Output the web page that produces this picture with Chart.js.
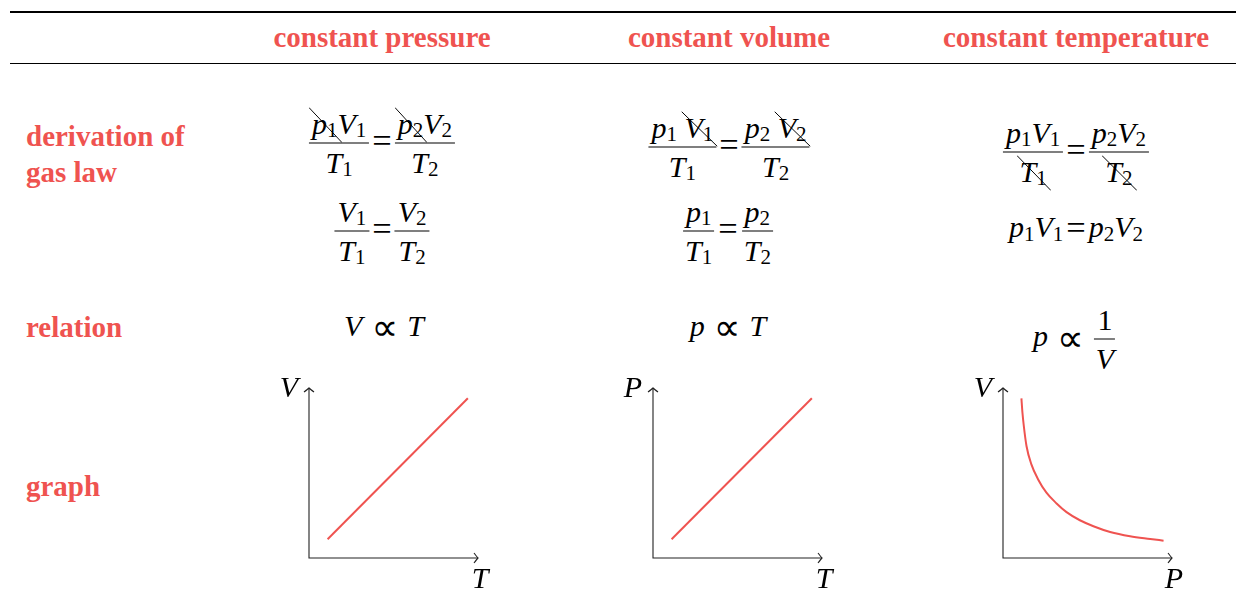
<!DOCTYPE html>
<html>
<head>
<meta charset="utf-8">
<script src="https://cdn.jsdelivr.net/npm/chart.js@4.4.0/dist/chart.umd.min.js"></script>
<style>
  body { margin: 0; background: #fff; }
  #page { position: relative; width: 1236px; height: 609px; overflow: hidden; }
  .rule { position: absolute; left: 10px; right: 0; background: #000; }
  .lbl { position: absolute; font-family: "Liberation Serif", serif; font-weight: bold; font-size: 29px;
         color: #ef5350; line-height: 1; white-space: nowrap; }
  .m { position: absolute; font-family: "Liberation Serif", serif; font-style: italic; font-size: 30px;
       color: #000; line-height: 1; white-space: nowrap; transform: translate(-50%, -50%); }
  .frac { display: inline-flex; flex-direction: column; align-items: center; vertical-align: middle; }
  .frac .num { padding: 0 3px 4px; border-bottom: 1.3px solid #000; }
  .frac .den { padding: 4px 3px 0; }
  sub { font-style: normal; font-size: 0.7em; vertical-align: -0.18em; line-height: 0; }
  .eq { font-style: normal; font-size: 1.15em; margin: 0 3px; vertical-align: -0.05em; }
  .prop { font-style: normal; font-family: "DejaVu Sans", sans-serif; margin: 0 9px; font-size: 1.25em; vertical-align: -0.12em; }
  .x { position: relative; }
  .x::after { content: ""; position: absolute; left: -3px; right: -4px; top: 1px; bottom: -3px;
              background: linear-gradient(to top right, transparent calc(50% - 0.7px), #000 50%, transparent calc(50% + 0.7px)); }
  canvas { position: absolute; }
</style>
</head>
<body>
<div id="page"></div>
<script>
// table text
const columns = ["constant pressure", "constant volume", "constant temperature"];
const rowLabels = [["derivation of", "gas law"], ["relation"], ["graph"]];

// graph data (axes run 0..10)
const xAxisLabels = ["T", "T", "P"];
const yAxisLabels = ["V", "P", "V"];
const pressureX = [1.1, 9.4];
const pressureY = [1.1, 9.4];
const volumeX = [1.1, 9.4];
const volumeY = [1.1, 9.4];
const tempX = [1.09, 1.15, 1.23, 1.39, 1.68, 2.08, 2.57, 3.17, 3.76, 4.55, 5.35, 6.34, 7.52, 8.71, 9.5];
const tempY = [9.39, 8.56, 7.78, 6.59, 5.51, 4.62, 3.84, 3.21, 2.7, 2.22, 1.87, 1.53, 1.28, 1.12, 1.02];

const red = "#ef5350";
const page = document.getElementById("page");

function add(html) {
  page.insertAdjacentHTML("beforeend", html);
}

// rules
add('<div class="rule" style="top:11px;height:2px"></div>');
add('<div class="rule" style="top:62.5px;height:1.3px"></div>');

// labels placed by baseline
function label(text, x, baseline, center) {
  const top = baseline - 29 * 0.8375;
  const tr = center ? "transform:translateX(-50%);" : "";
  add('<div class="lbl" style="left:' + x + 'px;top:' + top + 'px;' + tr + '">' + text + '</div>');
}
const colCenters = [382, 729, 1076];
columns.forEach((c, i) => label(c, colCenters[i], 47, true));
label(rowLabels[0][0], 26, 146, false);
label(rowLabels[0][1], 26, 182, false);
label(rowLabels[1][0], 26, 337, false);
label(rowLabels[2][0], 26, 496, false);

// math pieces
const s = n => "<sub>" + n + "</sub>";
const x = t => '<span class="x">' + t + "</span>";
const frac = (a, b) => '<span class="frac"><span class="num">' + a + '</span><span class="den">' + b + "</span></span>";
const eq = '<span class="eq">=</span>';
const prop = '<span class="prop">∝</span>';
function math(html, cx, cy) {
  add('<div class="m" style="left:' + cx + 'px;top:' + cy + 'px">' + html + "</div>");
}

math(frac(x("p" + s(1)) + "V" + s(1), "T" + s(1)) + eq + frac(x("p" + s(2)) + "V" + s(2), "T" + s(2)), 382, 143);
math(frac("V" + s(1), "T" + s(1)) + eq + frac("V" + s(2), "T" + s(2)), 382, 231);
math(frac("p" + s(1) + " " + x("V" + s(1)), "T" + s(1)) + eq + frac("p" + s(2) + " " + x("V" + s(2)), "T" + s(2)), 729, 147);
math(frac("p" + s(1), "T" + s(1)) + eq + frac("p" + s(2), "T" + s(2)), 728, 231);
math(frac("p" + s(1) + "V" + s(1), x("T" + s(1))) + eq + frac("p" + s(2) + "V" + s(2), x("T" + s(2))), 1076, 152);
math("p" + s(1) + "V" + s(1) + eq + "p" + s(2) + "V" + s(2), 1076, 227);

math("V" + prop + "T", 384, 328);
math("p" + prop + "T", 728, 328);
math("p" + prop + frac('<span style="font-style:normal">1</span>', "V"), 1075, 339);

// axes with arrow heads, drawn from the chart scales
const arrowAxes = {
  id: "arrowAxes",
  beforeDatasetsDraw(chart, args, opts) {
    const ctx = chart.ctx;
    const xs = chart.scales.x, ys = chart.scales.y;
    const x0 = xs.getPixelForValue(0), y0 = ys.getPixelForValue(0);
    const x1 = xs.getPixelForValue(10), y1 = ys.getPixelForValue(10);
    ctx.save();
    ctx.strokeStyle = "#222";
    ctx.lineWidth = 1.1;
    ctx.beginPath();
    ctx.moveTo(x1, y0); ctx.lineTo(x0, y0); ctx.lineTo(x0, y1);
    ctx.stroke();
    ctx.beginPath();
    ctx.moveTo(x1 - 4, y0 - 5); ctx.quadraticCurveTo(x1 - 1, y0 - 1, x1, y0);
    ctx.quadraticCurveTo(x1 - 1, y0 + 1, x1 - 4, y0 + 5);
    ctx.moveTo(x0 - 5, y1 + 4); ctx.quadraticCurveTo(x0 - 1, y1 + 1, x0, y1);
    ctx.quadraticCurveTo(x0 + 1, y1 + 1, x0 + 5, y1 + 4);
    ctx.stroke();
    ctx.fillStyle = "#000";
    ctx.font = 'italic 30px "Liberation Serif"';
    ctx.textBaseline = "alphabetic";
    ctx.textAlign = "right";
    ctx.fillText(opts.yLabel, x0 - 11, y1 + 9);
    ctx.textAlign = "center";
    ctx.fillText(opts.xLabel, x1 + 2, y0 + 30);
    ctx.restore();
  }
};

const graphs = [
  { left: 309, xs: pressureX, ys: pressureY },
  { left: 653, xs: volumeX, ys: volumeY },
  { left: 1003, xs: tempX, ys: tempY }
];
const pad = { left: 50, top: 30, right: 30, bottom: 45 };

graphs.forEach((g, i) => {
  const canvas = document.createElement("canvas");
  canvas.width = pad.left + 169 + pad.right;
  canvas.height = pad.top + 170 + pad.bottom;
  canvas.style.left = (g.left - pad.left) + "px";
  canvas.style.top = (388 - pad.top) + "px";
  page.appendChild(canvas);
  new Chart(canvas, {
    type: "scatter",
    data: {
      datasets: [{
        data: g.xs.map((v, k) => ({ x: v, y: g.ys[k] })),
        showLine: true,
        borderColor: red,
        borderWidth: 2,
        pointRadius: 0,
        tension: 0.4,
        cubicInterpolationMode: "monotone",
        fill: false
      }]
    },
    options: {
      responsive: false,
      animation: false,
      layout: { padding: pad },
      scales: {
        x: { type: "linear", min: 0, max: 10, display: false },
        y: { type: "linear", min: 0, max: 10, display: false }
      },
      plugins: {
        legend: { display: false },
        tooltip: { enabled: false },
        arrowAxes: { xLabel: xAxisLabels[i], yLabel: yAxisLabels[i] }
      }
    },
    plugins: [arrowAxes]
  });
});
</script>
</body>
</html>
